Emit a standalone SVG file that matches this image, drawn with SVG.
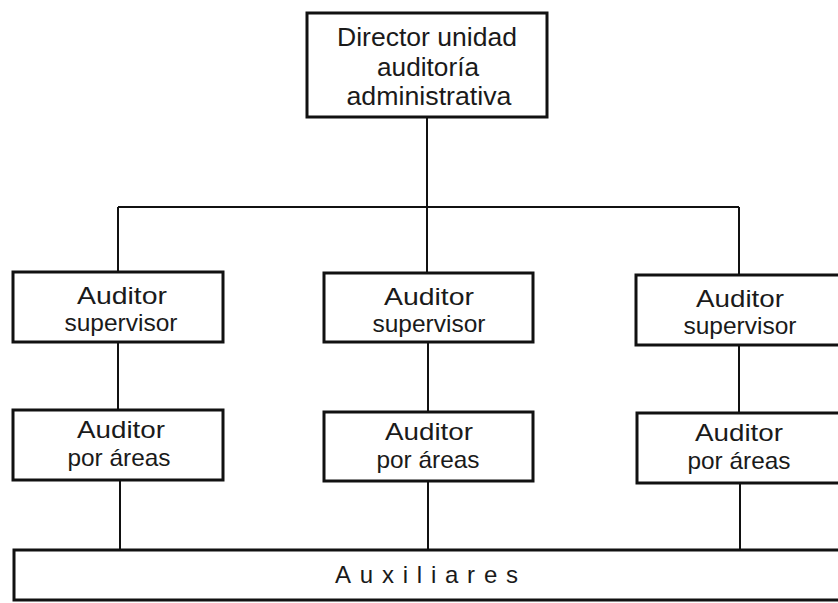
<svg xmlns="http://www.w3.org/2000/svg" width="838" height="603" viewBox="0 0 838 603">
<style>
.box{fill:#fff;stroke:#111;stroke-width:3}
.ln{fill:none;stroke:#111;stroke-width:2}
text{font-family:"Liberation Sans",Arial,sans-serif;font-size:24px;fill:#1a1a1a;text-anchor:middle}
.big{font-size:26px}
</style>
<rect width="838" height="603" fill="#fff"/>
<g id="connectors">
<path class="ln" d="M427 117V207M118 207H739M118 207V272M427 207V273M739 207V275"/>
<path class="ln" d="M118 342V410M428 342V412M739 344V413"/>
<path class="ln" d="M120 480V550M428 481V550M740 483V550"/>
</g>
<g id="director">
<rect class="box" x="307" y="13" width="240" height="104"/>
<text class="big" x="427" y="46" textLength="180" lengthAdjust="spacingAndGlyphs">Director unidad</text>
<text class="big" x="428" y="76" textLength="102" lengthAdjust="spacingAndGlyphs">auditoría</text>
<text class="big" x="429" y="105" textLength="165" lengthAdjust="spacingAndGlyphs">administrativa</text>
</g>
<g id="sup1">
<rect class="box" x="13" y="272" width="210" height="70"/>
<text x="122" y="304" textLength="90" lengthAdjust="spacingAndGlyphs">Auditor</text>
<text x="121" y="331" textLength="113" lengthAdjust="spacingAndGlyphs">supervisor</text>
</g>
<g id="sup2">
<rect class="box" x="324" y="273" width="209" height="69"/>
<text x="429" y="305" textLength="90" lengthAdjust="spacingAndGlyphs">Auditor</text>
<text x="429" y="332" textLength="113" lengthAdjust="spacingAndGlyphs">supervisor</text>
</g>
<g id="sup3">
<rect class="box" x="636" y="275" width="215" height="70"/>
<text x="740" y="307" textLength="88" lengthAdjust="spacingAndGlyphs">Auditor</text>
<text x="740" y="334" textLength="113" lengthAdjust="spacingAndGlyphs">supervisor</text>
</g>
<g id="area1">
<rect class="box" x="13" y="410" width="210" height="70"/>
<text x="121" y="438" textLength="88" lengthAdjust="spacingAndGlyphs">Auditor</text>
<text x="119" y="466" textLength="103" lengthAdjust="spacingAndGlyphs">por áreas</text>
</g>
<g id="area2">
<rect class="box" x="324" y="412" width="209" height="69"/>
<text x="429" y="440" textLength="88" lengthAdjust="spacingAndGlyphs">Auditor</text>
<text x="428" y="468" textLength="103" lengthAdjust="spacingAndGlyphs">por áreas</text>
</g>
<g id="area3">
<rect class="box" x="637" y="413" width="215" height="70"/>
<text x="739" y="441" textLength="88" lengthAdjust="spacingAndGlyphs">Auditor</text>
<text x="739" y="469" textLength="103" lengthAdjust="spacingAndGlyphs">por áreas</text>
</g>
<g id="auxiliares">
<rect class="box" x="14" y="550" width="835" height="50"/>
<text x="335" y="583" style="text-anchor:start" textLength="183" lengthAdjust="spacing">Auxiliares</text>
</g>
</svg>
